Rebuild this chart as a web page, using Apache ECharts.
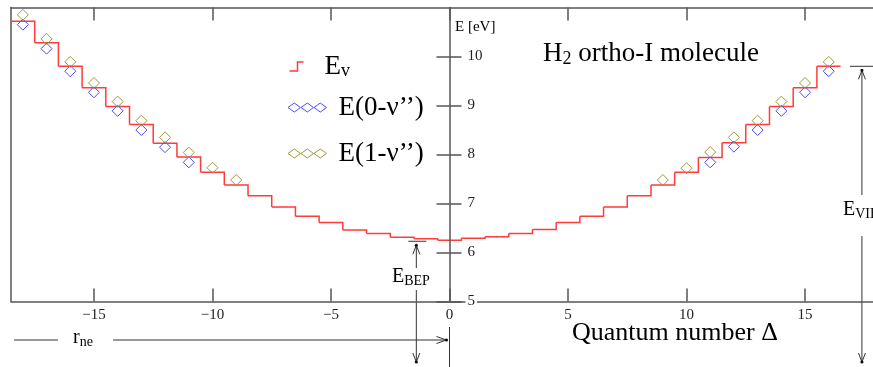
<!DOCTYPE html>
<html>
<head>
<meta charset="utf-8">
<script src="https://cdn.jsdelivr.net/npm/echarts@6/dist/echarts.min.js"></script>
<style>
  html, body { margin: 0; padding: 0; background: #fff; }
  #main { width: 873px; height: 367px; }
</style>
</head>
<body>
<div id="main"></div>
<script>
// quantum number Δ and the step levels E_v [eV]
const deltas = [-18, -17, -16, -15, -14, -13, -12, -11, -10, -9, -8, -7, -6, -5, -4, -3, -2, -1,
  0, 1, 2, 3, 4, 5, 6, 7, 8, 9, 10, 11, 12, 13, 14, 15, 16];
const energyEv = [10.72, 10.28, 9.80, 9.36, 8.98, 8.61, 8.23, 7.95, 7.64, 7.38, 7.16, 6.93, 6.74, 6.61, 6.46, 6.39, 6.31, 6.28,
  6.25, 6.29, 6.32, 6.39, 6.47, 6.61, 6.74, 6.93, 7.16, 7.38, 7.64, 7.94, 8.24, 8.61, 8.98, 9.36, 9.80];

// E(0-v'') points
const e0Delta = [-18, -17, -16, -15, -14, -13, -12, -11, 11, 12, 13, 14, 15, 16];
const e0Values = [10.65, 10.16, 9.70, 9.27, 8.89, 8.50, 8.15, 7.84, 7.84, 8.16, 8.50, 8.89, 9.27, 9.70];

// E(1-v'') points
const e1Delta = [-18, -17, -16, -15, -14, -13, -12, -11, -10, -9, 9, 10, 11, 12, 13, 14, 15, 16];
const e1Values = [10.85, 10.36, 9.89, 9.46, 9.08, 8.69, 8.35, 8.04, 7.73, 7.48, 7.48, 7.72, 8.05, 8.35, 8.69, 9.08, 9.46, 9.89];

const xTicks = [-15, -10, -5, 0, 5, 10, 15];
const yTicks = [5, 6, 7, 8, 9, 10];

const serif = '"Liberation Serif", "Times New Roman", serif';
const axisColor = '#555';
const ink = '#222';
const red = '#ff3b3b';
const blue = '#4d4dff';
const olive = '#9c9a3c';

const name0 = 'E(0-\u03bd\u2019\u2019)';
const name1 = 'E(1-\u03bd\u2019\u2019)';

var chart = echarts.init(document.getElementById('main'));

function minusFmt(v) {
  return v < 0 ? '\u2212' + (-v) : String(v);
}

var frameLine = { color: axisColor, width: 1.5 };
// three touching hollow diamonds, drawn in the left 40px of a 46px legend slot
var diamonds3 = 'path://M0,0 M46,10 M0.5,5 L6.8,0.5 L13,5 L6.8,9.5 Z M13.5,5 L19.8,0.5 L26,5 L19.8,9.5 Z M26.5,5 L32.8,0.5 L39,5 L32.8,9.5 Z';

var option = {
  animation: false,
  backgroundColor: '#fff',
  grid: { left: 11, top: 7.5, width: 877, height: 294, outerBoundsMode: 'none', containLabel: false },
  legend: [
    {
      data: [{
        name: 'Ev',
        icon: 'path://M0,0 M32,10 M2,9.5 L10,9.5 L10,0.5 L16,0.5',
        itemStyle: { color: 'none', borderColor: red, borderWidth: 1.5 }
      }],
      left: 285, top: 53, padding: 0,
      itemWidth: 32, itemHeight: 10,
      formatter: function () { return '{m|E}{s|v}'; },
      textStyle: {
        rich: {
          m: { fontFamily: serif, fontSize: 27, color: '#000', lineHeight: 28 },
          s: { fontFamily: serif, fontSize: 18, color: '#000', lineHeight: 10, verticalAlign: 'bottom' }
        }
      }
    },
    {
      data: [
        { name: name0, icon: diamonds3, itemStyle: { color: 'none', borderColor: blue, borderWidth: 1 } },
        { name: name1, icon: diamonds3, itemStyle: { color: 'none', borderColor: olive, borderWidth: 1 } }
      ],
      orient: 'vertical',
      left: 285, top: 94, padding: 0,
      itemWidth: 46, itemHeight: 10, itemGap: 19,
      textStyle: { fontFamily: serif, fontSize: 27, color: '#000' }
    }
  ],
  xAxis: [
    {
      type: 'value', min: -18.5, max: 18.5, position: 'bottom',
      axisLine: { onZero: false, lineStyle: frameLine },
      axisTick: { inside: true, length: 13, customValues: xTicks, lineStyle: frameLine },
      axisLabel: { customValues: xTicks, formatter: minusFmt, margin: 6, color: ink, fontFamily: serif, fontSize: 15 },
      splitLine: { show: false }
    },
    {
      type: 'value', min: -18.5, max: 18.5, position: 'top',
      axisLine: { onZero: false, lineStyle: frameLine },
      axisTick: { inside: true, length: 13, customValues: xTicks, lineStyle: frameLine },
      axisLabel: { show: false },
      splitLine: { show: false }
    }
  ],
  yAxis: [
    {
      // left frame
      type: 'value', min: 5, max: 11, position: 'left',
      axisLine: { show: true, onZero: false, lineStyle: frameLine },
      axisTick: { show: false }, axisLabel: { show: false }, splitLine: { show: false }
    },
    {
      // energy axis at Δ = 0, ticks and labels to the right
      type: 'value', min: 5, max: 11, position: 'right', z: 5,
      axisLine: { show: true, onZero: false, lineStyle: frameLine },
      axisTick: { show: true, length: 12, customValues: yTicks, lineStyle: frameLine },
      axisLabel: { customValues: yTicks, margin: 16, color: ink, fontFamily: serif, fontSize: 15,
        backgroundColor: '#fff', padding: [0, 2] },
      splitLine: { show: false }
    },
    {
      // left half of the crossing ticks at Δ = 0
      type: 'value', min: 5, max: 11, position: 'left',
      axisLine: { show: false, onZero: false },
      axisTick: { show: true, length: 13, customValues: yTicks, lineStyle: frameLine },
      axisLabel: { show: false }, splitLine: { show: false }
    }
  ],
  series: [
    {
      name: 'Ev',
      type: 'custom',
      xAxisIndex: 0, yAxisIndex: 0,
      data: deltas.map(function (d, i) { return [d, energyEv[i]]; }),
      encode: { x: 0, y: 1 },
      clip: true,
      renderItem: function (params, api) {
        var x = api.value(0), y = api.value(1);
        var i = params.dataIndex;
        var pts = [api.coord([x - 0.5, y]), api.coord([x + 0.5, y])];
        if (i < energyEv.length - 1) pts.push(api.coord([x + 0.5, energyEv[i + 1]]));
        return {
          type: 'polyline',
          shape: { points: pts },
          style: { stroke: red, lineWidth: 1.5, fill: null }
        };
      },
      itemStyle: { color: red },
      z: 2
    },
    {
      name: name0,
      type: 'scatter',
      symbol: 'diamond', symbolSize: 11,
      data: e0Delta.map(function (d, i) { return [d, e0Values[i]]; }),
      itemStyle: { color: 'rgba(0,0,0,0)', borderColor: blue, borderWidth: 1, opacity: 1 },
      z: 3
    },
    {
      name: name1,
      type: 'scatter',
      symbol: 'diamond', symbolSize: 11,
      data: e1Delta.map(function (d, i) { return [d, e1Values[i]]; }),
      itemStyle: { color: 'rgba(0,0,0,0)', borderColor: olive, borderWidth: 1, opacity: 1 },
      z: 3
    }
  ]
};

chart.setOption(option);

// anchors read back from the axes
function px(x, y) { return chart.convertToPixel({ xAxisIndex: 0, yAxisIndex: 0 }, [x, y]); }
var zeroX = px(0, 5)[0];
var gridL = px(-18.5, 5)[0];
var gridR = px(18.5, 5)[0];

// move the centre axis pair onto Δ = 0
chart.setOption({
  yAxis: [{}, { offset: -(gridR - zeroX) }, { offset: -(zeroX - gridL) }]
});

var bepX = px(-1.4, 6)[0];
var bepY = px(0, Math.min.apply(null, energyEv))[1];
var vibX = px(17.4, 6)[0];
var vibY = px(0, energyEv[energyEv.length - 1])[1];

var annStyle = { stroke: '#333', lineWidth: 1 };
function seg(x1, y1, x2, y2) {
  return { type: 'line', shape: { x1: x1, y1: y1, x2: x2, y2: y2 }, style: annStyle, silent: true };
}
function head(x, y, dir) {
  // open arrow head; dir: 'up' | 'down' | 'right'
  var pts;
  if (dir === 'up') pts = [[x - 3.5, y + 9], [x, y], [x + 3.5, y + 9]];
  else if (dir === 'down') pts = [[x - 3.5, y - 9], [x, y], [x + 3.5, y - 9]];
  else pts = [[x - 10, y - 3.5], [x, y], [x - 10, y + 3.5]];
  return [
    { type: 'polyline', shape: { points: pts }, style: { stroke: '#333', lineWidth: 1, fill: null }, silent: true },
    { type: 'circle', shape: { cx: x, cy: y, r: 1.6 }, style: { fill: '#111' }, silent: true }
  ];
}
function label(x, y, rich, str, font) {
  var st = { text: str, align: 'left', verticalAlign: 'middle', fill: '#000' };
  if (rich) st.rich = rich;
  if (font) st.font = font;
  return { type: 'text', x: x, y: y, silent: true, style: st };
}
var subRich = {
  m: { fontFamily: serif, fontSize: 20, lineHeight: 22, fill: '#000' },
  s: { fontFamily: serif, fontSize: 14, lineHeight: 10, verticalAlign: 'bottom', fill: '#000' }
};

var g = [];
// axis title and chart title
g.push(label(455, 27, null, 'E [eV]', '15px ' + serif));
g.push(label(543, 54, {
  m: { fontFamily: serif, fontSize: 27, lineHeight: 28, fill: '#000' },
  s: { fontFamily: serif, fontSize: 18, lineHeight: 10, verticalAlign: 'bottom', fill: '#000' }
}, '{m|H}{s|2}{m| ortho-I molecule}'));
g.push(label(572, 333, null, 'Quantum number \u0394', '26px ' + serif));

// r_ne arrow
g.push(seg(14, 340, 58, 340));
g.push(label(73, 338, subRich, '{m|r}{s|ne}'));
g.push(seg(113, 340, zeroX - 3, 340));
g = g.concat(head(zeroX - 3, 340, 'right'));
g.push(seg(zeroX, 327, zeroX, 367));

// E_BEP arrows
g.push(seg(bepX - 8, bepY + 1, bepX + 10, bepY + 1));
g.push(seg(bepX, bepY + 5, bepX, 268));
g = g.concat(head(bepX, bepY + 5, 'up'));
g.push(label(392, 277, subRich, '{m|E}{s|BEP}'));
g.push(seg(bepX, 290, bepX, 362));
g = g.concat(head(bepX, 362, 'down'));

// E_VIB arrows
g.push(seg(vibX - 12, vibY, 880, vibY));
g.push(seg(vibX, vibY + 4, vibX, 195));
g = g.concat(head(vibX, vibY + 4, 'up'));
g.push(label(843, 210, subRich, '{m|E}{s|VIB}'));
g.push(seg(vibX, 236, vibX, 362));
g = g.concat(head(vibX, 362, 'down'));

chart.setOption({ graphic: g });
</script>
</body>
</html>
